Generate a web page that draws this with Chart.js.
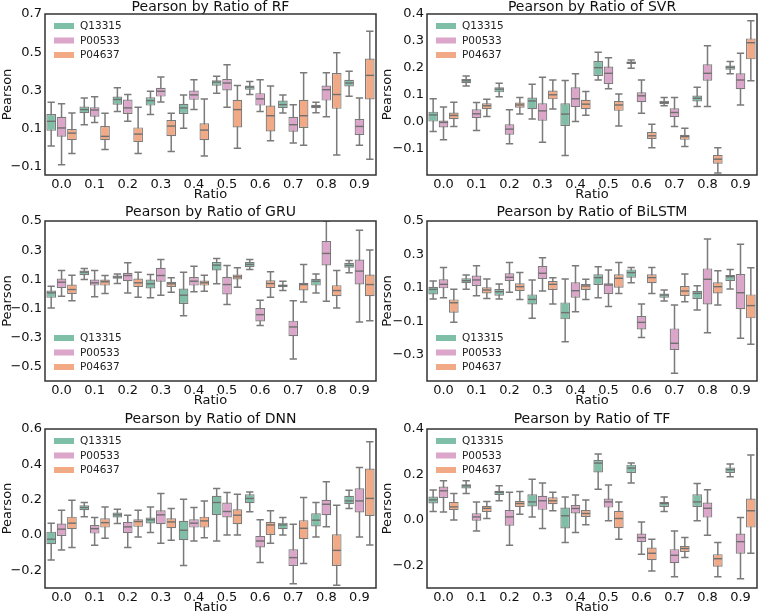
<!DOCTYPE html>
<html><head><meta charset="utf-8">
<script src="https://cdn.jsdelivr.net/npm/chart.js@4.4.1/dist/chart.umd.min.js"></script>
<style>
html,body{margin:0;padding:0;background:#fff;}
#wrap{position:relative;width:760px;height:615px;overflow:hidden;}
canvas{position:absolute;}
</style></head><body><div id="wrap"></div>
<script>
// ---------- data: each row = [whiskerLow, Q1, median, Q3, whiskerHigh] ----------
const categories = ['0.0','0.1','0.2','0.3','0.4','0.5','0.6','0.7','0.8','0.9'];
const seriesNames = ['Q13315','P00533','P04637'];

const RF_Q13315 = [[0.010,0.089,0.139,0.177,0.239],[0.121,0.181,0.200,0.216,0.261],[0.190,0.226,0.253,0.268,0.314],[0.174,0.221,0.247,0.265,0.296],[0.102,0.177,0.209,0.230,0.277],[0.286,0.325,0.344,0.353,0.375],[0.279,0.304,0.318,0.326,0.347],[0.182,0.209,0.226,0.247,0.277],[0.184,0.207,0.216,0.225,0.239],[0.270,0.321,0.339,0.356,0.400]];
const RF_P00533 = [[-0.089,0.058,0.104,0.163,0.230],[0.133,0.163,0.198,0.212,0.267],[0.139,0.177,0.209,0.253,0.279],[0.240,0.268,0.296,0.314,0.370],[0.200,0.251,0.277,0.300,0.356],[0.212,0.300,0.339,0.360,0.435],[0.190,0.221,0.256,0.286,0.356],[0.025,0.084,0.121,0.163,0.225],[0.163,0.247,0.304,0.326,0.393],[0.014,0.067,0.112,0.151,0.261]];
const RF_P04637 = [[-0.030,0.040,0.077,0.098,0.182],[-0.009,0.040,0.060,0.114,0.181],[-0.030,0.030,0.072,0.107,0.212],[-0.019,0.061,0.114,0.146,0.181],[-0.042,0.040,0.093,0.128,0.256],[-0.002,0.107,0.200,0.251,0.326],[0.037,0.086,0.168,0.221,0.323],[0.014,0.104,0.168,0.251,0.393],[-0.037,0.204,0.279,0.391,0.497],[-0.060,0.253,0.379,0.467,0.610]];

const SVR_Q13315 = [[-0.038,-0.001,0.024,0.036,0.084],[0.132,0.142,0.151,0.158,0.169],[0.092,0.108,0.120,0.127,0.142],[0.009,0.045,0.076,0.089,0.138],[-0.127,-0.017,0.027,0.067,0.152],[0.154,0.169,0.200,0.225,0.257],[0.198,0.214,0.219,0.223,0.229],[0.058,0.064,0.071,0.077,0.089],[0.055,0.074,0.086,0.096,0.127],[0.177,0.192,0.201,0.208,0.223]];
const SVR_P00533 = [[-0.069,-0.023,-0.004,0.003,0.053],[-0.034,0.012,0.028,0.045,0.070],[-0.084,-0.050,-0.029,-0.011,0.043],[-0.078,0.002,0.039,0.067,0.164],[-0.001,0.053,0.084,0.127,0.177],[0.121,0.139,0.179,0.204,0.237],[0.030,0.071,0.095,0.108,0.154],[-0.019,0.015,0.033,0.049,0.089],[0.055,0.151,0.179,0.213,0.282],[0.061,0.120,0.154,0.179,0.254]];
const SVR_P04637 = [[-0.019,0.008,0.022,0.033,0.071],[0.018,0.045,0.058,0.067,0.082],[0.027,0.051,0.061,0.070,0.089],[0.046,0.082,0.099,0.115,0.154],[0.023,0.045,0.064,0.080,0.111],[-0.017,0.039,0.061,0.076,0.102],[-0.098,-0.066,-0.054,-0.040,-0.011],[-0.094,-0.069,-0.057,-0.050,-0.026],[-0.193,-0.158,-0.141,-0.125,-0.098],[0.151,0.231,0.293,0.309,0.375]];

const GRU_Q13315 = [[-0.095,-0.026,0.008,0.024,0.054],[0.100,0.129,0.150,0.161,0.175],[0.072,0.104,0.116,0.127,0.138],[-0.026,0.038,0.070,0.100,0.134],[-0.148,-0.068,-0.008,0.038,0.150],[0.070,0.161,0.198,0.219,0.244],[0.168,0.184,0.203,0.219,0.237],[0.024,0.047,0.058,0.065,0.088],[0.008,0.058,0.088,0.104,0.138],[0.145,0.180,0.196,0.214,0.230]];
const GRU_P00533 = [[-0.015,0.042,0.081,0.106,0.161],[-0.019,0.058,0.077,0.100,0.161],[0.008,0.088,0.127,0.145,0.214],[-0.008,0.084,0.127,0.180,0.237],[0.015,0.058,0.088,0.116,0.191],[-0.072,-0.003,0.065,0.118,0.196],[-0.216,-0.187,-0.141,-0.095,-0.042],[-0.445,-0.289,-0.225,-0.182,-0.045],[-0.049,0.196,0.278,0.363,0.500],[-0.191,0.065,0.157,0.237,0.436]];
const GRU_P04637 = [[-0.045,0.001,0.031,0.065,0.129],[0.003,0.058,0.084,0.100,0.127],[-0.022,0.049,0.077,0.106,0.150],[0.013,0.049,0.070,0.084,0.111],[0.019,0.058,0.077,0.093,0.129],[0.047,0.100,0.118,0.134,0.180],[-0.022,0.042,0.072,0.095,0.152],[-0.054,0.024,0.065,0.077,0.203],[-0.095,-0.015,0.024,0.061,0.161],[-0.182,-0.015,0.065,0.134,0.301]];

const BILSTM_Q13315 = [[0.034,0.062,0.092,0.108,0.142],[0.092,0.128,0.144,0.158,0.178],[0.034,0.054,0.078,0.094,0.124],[-0.081,0.002,0.032,0.062,0.148],[-0.220,-0.087,-0.047,0.014,0.154],[0.042,0.118,0.162,0.182,0.227],[0.132,0.162,0.192,0.211,0.223],[0.022,0.042,0.058,0.068,0.088],[-0.031,0.034,0.068,0.084,0.114],[0.094,0.142,0.168,0.178,0.211]];
const BILSTM_P00533 = [[0.042,0.098,0.122,0.152,0.223],[0.054,0.112,0.148,0.174,0.233],[0.074,0.142,0.164,0.188,0.253],[0.082,0.154,0.188,0.231,0.281],[-0.041,0.042,0.084,0.134,0.233],[-0.011,0.064,0.118,0.128,0.207],[-0.195,-0.147,-0.105,-0.067,0.004],[-0.409,-0.270,-0.230,-0.141,-0.002],[-0.167,0.002,0.152,0.217,0.393],[-0.200,-0.027,0.072,0.184,0.361]];
const BILSTM_P04637 = [[-0.105,-0.047,0.012,0.032,0.092],[0.038,0.068,0.088,0.104,0.154],[0.032,0.082,0.108,0.128,0.192],[0.004,0.088,0.122,0.142,0.162],[0.032,0.088,0.112,0.124,0.152],[0.068,0.102,0.158,0.182,0.253],[0.068,0.128,0.162,0.182,0.223],[0.018,0.052,0.082,0.112,0.184],[-0.001,0.068,0.108,0.134,0.203],[-0.236,-0.081,-0.005,0.062,0.221]];

const DNN_Q13315 = [[-0.141,-0.052,-0.024,0.019,0.067],[0.103,0.140,0.156,0.169,0.184],[0.065,0.099,0.114,0.127,0.146],[0.014,0.065,0.086,0.099,0.159],[-0.172,-0.030,0.027,0.080,0.203],[-0.034,0.112,0.184,0.222,0.263],[0.131,0.180,0.207,0.231,0.244],[0.000,0.033,0.057,0.070,0.099],[-0.011,0.048,0.084,0.123,0.184],[0.150,0.174,0.193,0.222,0.254]];
const DNN_P00533 = [[-0.085,-0.005,0.033,0.065,0.140],[-0.058,0.008,0.036,0.057,0.099],[-0.071,0.010,0.046,0.074,0.112],[-0.047,0.061,0.114,0.140,0.235],[-0.034,0.042,0.067,0.089,0.156],[0.000,0.099,0.133,0.184,0.241],[-0.156,-0.071,-0.034,-0.005,0.086],[-0.276,-0.175,-0.128,-0.081,0.061],[0.046,0.112,0.174,0.199,0.301],[-0.011,0.127,0.193,0.265,0.382]];
const DNN_P04637 = [[-0.071,0.033,0.067,0.104,0.197],[-0.018,0.042,0.070,0.095,0.159],[-0.011,0.046,0.076,0.089,0.140],[-0.030,0.038,0.074,0.095,0.150],[-0.015,0.042,0.080,0.104,0.193],[0.000,0.061,0.112,0.146,0.231],[-0.047,0.000,0.057,0.074,0.137],[-0.162,-0.024,0.038,0.084,0.212],[-0.285,-0.175,-0.087,0.004,0.169],[-0.056,0.108,0.207,0.376,0.528]];

const TF_Q13315 = [[0.037,0.072,0.088,0.103,0.131],[0.116,0.138,0.150,0.157,0.172],[0.084,0.109,0.121,0.128,0.150],[0.013,0.059,0.079,0.113,0.179],[-0.100,-0.038,0.018,0.054,0.101],[0.135,0.209,0.250,0.263,0.290],[0.162,0.206,0.228,0.243,0.250],[0.037,0.057,0.072,0.079,0.101],[-0.004,0.057,0.079,0.113,0.160],[0.190,0.206,0.221,0.231,0.246]];
const TF_P00533 = [[0.035,0.096,0.128,0.147,0.172],[-0.049,-0.004,0.013,0.029,0.079],[-0.112,-0.026,0.013,0.043,0.121],[-0.038,0.044,0.084,0.106,0.162],[-0.056,0.028,0.050,0.065,0.109],[-0.004,0.054,0.079,0.094,0.153],[-0.151,-0.097,-0.078,-0.060,-0.009],[-0.250,-0.191,-0.156,-0.129,-0.049],[-0.068,0.010,0.051,0.076,0.132],[-0.259,-0.149,-0.096,-0.060,0.010]];
const TF_P04637 = [[-0.001,0.043,0.057,0.079,0.116],[0.006,0.035,0.051,0.062,0.081],[0.025,0.057,0.072,0.084,0.125],[0.040,0.069,0.084,0.099,0.121],[-0.022,0.013,0.028,0.043,0.087],[-0.085,-0.037,0.006,0.040,0.079],[-0.225,-0.178,-0.147,-0.122,-0.085],[-0.166,-0.141,-0.126,-0.115,-0.078],[-0.251,-0.206,-0.171,-0.151,-0.100],[-0.147,-0.034,0.040,0.094,0.285]];

const RF_ticks = [-0.1,0.1,0.3,0.5,0.7];
const SVR_ticks = [-0.1,0.0,0.1,0.2,0.3,0.4];
const GRU_ticks = [-0.5,-0.3,-0.1,0.1,0.3,0.5];
const BILSTM_ticks = [-0.3,-0.1,0.1,0.3,0.5];
const DNN_ticks = [-0.2,0.0,0.2,0.4,0.6];
const TF_ticks = [-0.2,0.0,0.2,0.4];

// ---------- styling ----------
const FONT = 'DejaVu Sans';
const fills = ['#80bfa7','#dca6ca','#f2aa86'];
const LINE = '#7a7a7a';
const TXT = '#111111';

const panels = [
  {title:'Pearson by Ratio of RF', sets:[RF_Q13315,RF_P00533,RF_P04637], ticks:RF_ticks, min:-0.142, max:0.70, left:0, top:0, area:{l:45,r:376,t:14,b:175}, tpad:{top:0,bottom:0}, xpad:3, legend:'top'},
  {title:'Pearson by Ratio of SVR', sets:[SVR_Q13315,SVR_P00533,SVR_P04637], ticks:SVR_ticks, min:-0.20, max:0.40, left:380, top:0, area:{l:47,r:377,t:14,b:175}, tpad:{top:0,bottom:0}, xpad:3, legend:'top'},
  {title:'Pearson by Ratio of GRU', sets:[GRU_Q13315,GRU_P00533,GRU_P04637], ticks:GRU_ticks, min:-0.595, max:0.50, left:0, top:205, area:{l:45,r:376,t:16,b:176}, tpad:{top:0,bottom:2}, xpad:2, legend:'bottom'},
  {title:'Pearson by Ratio of BiLSTM', sets:[BILSTM_Q13315,BILSTM_P00533,BILSTM_P04637], ticks:BILSTM_ticks, min:-0.455, max:0.50, left:380, top:205, area:{l:47,r:377,t:16,b:176}, tpad:{top:0,bottom:2}, xpad:2, legend:'bottom'},
  {title:'Pearson by Ratio of DNN', sets:[DNN_Q13315,DNN_P00533,DNN_P04637], ticks:DNN_ticks, min:-0.30, max:0.60, left:0, top:410, area:{l:45,r:376,t:19,b:178}, tpad:{top:2,bottom:3}, xpad:0, legend:'top'},
  {title:'Pearson by Ratio of TF', sets:[TF_Q13315,TF_P00533,TF_P04637], ticks:TF_ticks, min:-0.30, max:0.40, left:380, top:410, area:{l:47,r:377,t:19,b:178}, tpad:{top:2,bottom:3}, xpad:0, legend:'top'}
];

const fmt = v => (v < -1e-9 ? '\u2212' : '') + Math.abs(v).toFixed(1);

const boxPlugin = {
  id: 'boxes',
  beforeDatasetsDraw(chart) {
    const ctx = chart.ctx, y = chart.scales.y, a = chart.chartArea;
    ctx.save();
    ctx.beginPath(); ctx.rect(a.left, a.top, a.right - a.left, a.bottom - a.top); ctx.clip();
    ctx.strokeStyle = LINE; ctx.lineWidth = 1.5; ctx.lineCap = 'butt';
    chart.data.datasets.forEach((ds, di) => {
      chart.getDatasetMeta(di).data.forEach((bar, i) => {
        const s = ds.stats[i]; const x = bar.x; const cw = bar.width * 0.38;
        const lo = y.getPixelForValue(s[0]), hi = y.getPixelForValue(s[4]);
        ctx.beginPath();
        ctx.moveTo(x, lo); ctx.lineTo(x, hi);
        ctx.moveTo(x - cw, lo); ctx.lineTo(x + cw, lo);
        ctx.moveTo(x - cw, hi); ctx.lineTo(x + cw, hi);
        ctx.stroke();
      });
    });
    ctx.restore();
  },
  afterDatasetsDraw(chart) {
    const ctx = chart.ctx, y = chart.scales.y, a = chart.chartArea;
    ctx.save();
    ctx.strokeStyle = '#6f6f6f'; ctx.lineWidth = 1.4;
    chart.data.datasets.forEach((ds, di) => {
      chart.getDatasetMeta(di).data.forEach((bar, i) => {
        const s = ds.stats[i]; const m = y.getPixelForValue(s[2]);
        ctx.beginPath();
        ctx.moveTo(bar.x - bar.width / 2 + 0.6, m); ctx.lineTo(bar.x + bar.width / 2 - 0.6, m);
        ctx.stroke();
      });
    });
    ctx.strokeStyle = '#333333'; ctx.lineWidth = 1.5;
    ctx.strokeRect(a.left, a.top, a.right - a.left, a.bottom - a.top);
    ctx.restore();
  }
};

const legendPlugin = {
  id: 'boxLegend',
  afterDraw(chart, args, opts) {
    const ctx = chart.ctx, a = chart.chartArea;
    ctx.save();
    ctx.font = '10.5px "' + FONT + '"';
    ctx.textBaseline = 'middle';
    const n = chart.data.datasets.length;
    chart.data.datasets.forEach((ds, i) => {
      const cy = opts.pos === 'top' ? a.top + 12 + i * 14.5 : a.bottom - 14 - (n - 1 - i) * 14.5;
      ctx.fillStyle = ds.backgroundColor;
      ctx.fillRect(a.left + 9, cy - 3, 20, 6);
      ctx.fillStyle = '#222222';
      ctx.fillText(ds.label, a.left + 35, cy + 0.5);
    });
    ctx.restore();
  }
};

const wrap = document.getElementById('wrap');
panels.forEach(p => {
  const W = 380, H = 205;
  const cv = document.createElement('canvas');
  cv.width = W; cv.height = H;
  cv.style.left = p.left + 'px'; cv.style.top = p.top + 'px';
  cv.style.width = W + 'px'; cv.style.height = H + 'px';
  wrap.appendChild(cv);
  new Chart(cv, {
    type: 'bar',
    data: {
      labels: categories,
      datasets: p.sets.map((st, k) => ({
        label: seriesNames[k],
        data: st.map(s => [s[1], s[3]]),
        stats: st,
        backgroundColor: fills[k],
        borderColor: LINE,
        borderWidth: 1.2,
        borderSkipped: false,
        categoryPercentage: 0.94,
        barPercentage: 0.93
      }))
    },
    options: {
      responsive: false, animation: false, devicePixelRatio: 1,
      layout: {padding: {left: 0, right: W - p.area.r, top: 0, bottom: 0}},
      plugins: {
        legend: {display: false},
        tooltip: {enabled: false},
        title: {display: true, text: p.title, fullSize: false, color: TXT,
                font: {family: FONT, size: 14, weight: 'normal', lineHeight: 1},
                padding: p.tpad},
        boxLegend: {pos: p.legend}
      },
      scales: {
        x: {
          type: 'category', offset: true,
          grid: {display: false, drawTicks: false}, border: {display: false},
          ticks: {color: TXT, font: {family: FONT, size: 13}, padding: 2, maxRotation: 0, autoSkip: false},
          title: {display: true, text: 'Ratio', color: TXT, font: {family: FONT, size: 13, lineHeight: 1.2}, padding: {top: 0, bottom: p.xpad}},
          afterFit: s => { s.height = H - p.area.b; }
        },
        y: {
          min: p.min, max: p.max,
          grid: {display: false, drawTicks: false}, border: {display: false},
          afterBuildTicks: s => { s.ticks = p.ticks.map(v => ({value: v})); },
          ticks: {color: TXT, font: {family: FONT, size: 13}, padding: 3, autoSkip: false, callback: v => fmt(v)},
          title: {display: true, text: 'Pearson', color: TXT, font: {family: FONT, size: 13, lineHeight: 1.2}, padding: {top: 0, bottom: 0}},
          afterFit: s => { s.width = p.area.l; }
        }
      }
    },
    plugins: [boxPlugin, legendPlugin]
  });
});
</script></body></html>
